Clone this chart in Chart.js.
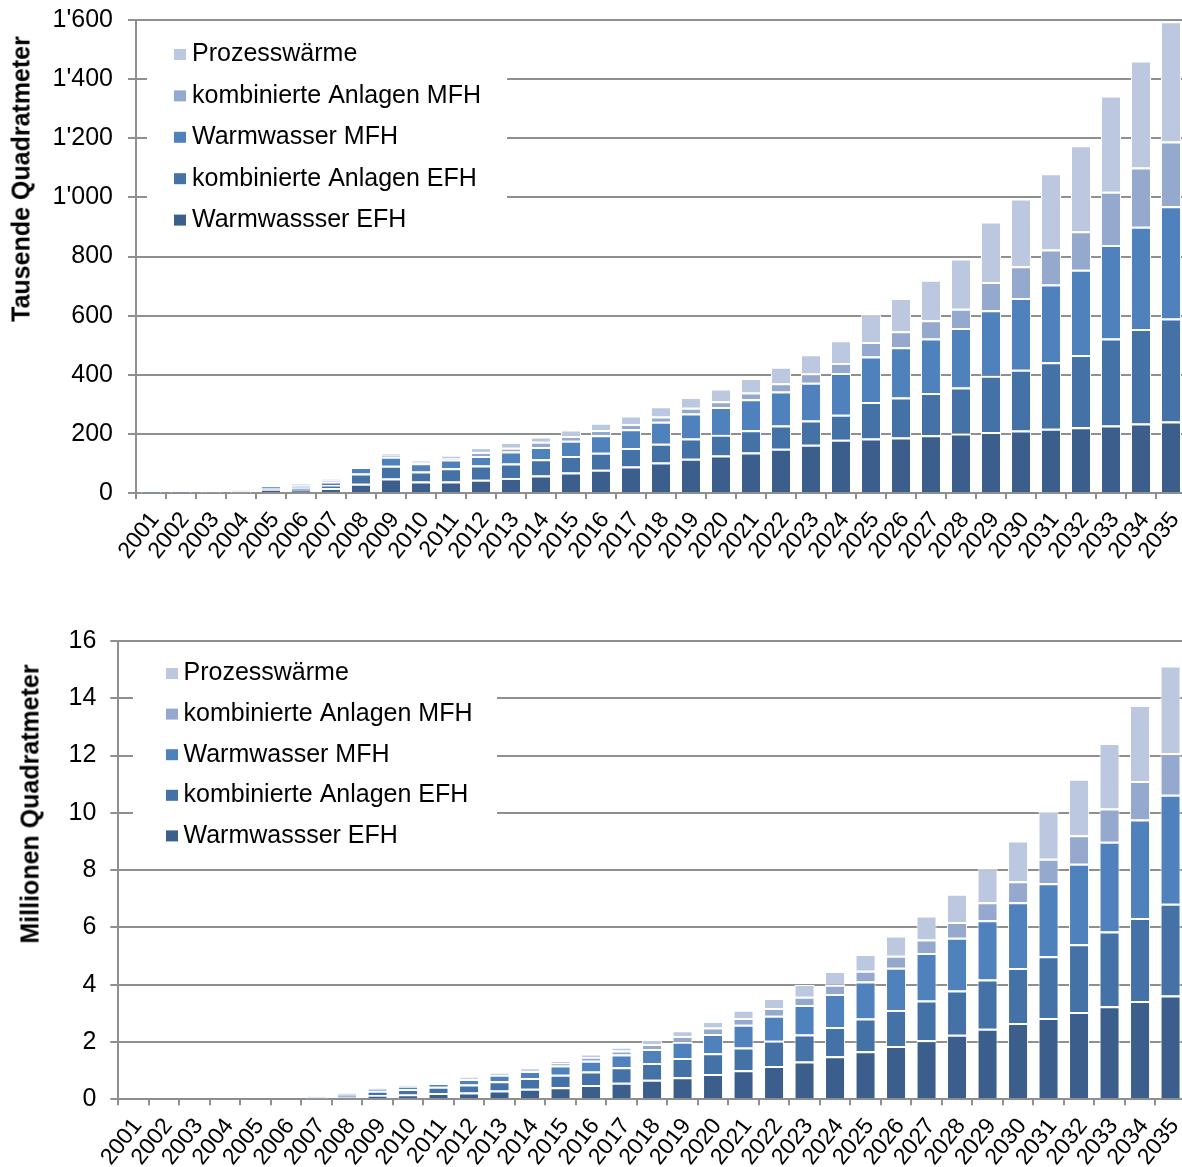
<!DOCTYPE html>
<html>
<head>
<meta charset="utf-8">
<script src="https://cdn.jsdelivr.net/npm/chart.js@4.4.1/dist/chart.umd.min.js"></script>
<style>
  html, body { margin: 0; padding: 0; background: #fff; overflow: hidden; width: 1182px; height: 1167px; }
  #wrap { position: relative; width: 1182px; height: 1167px; overflow: hidden; }
  canvas { position: absolute; left: 0; }
  .ytitle {
    position: absolute;
    font: bold 25px "Liberation Sans", Arial, sans-serif;
    white-space: nowrap;
    line-height: 1;
    color: #000;
    transform: translate(-50%, -50%) rotate(-90deg);
  }
</style>
</head>
<body>
<div id="wrap">
  <canvas id="annual" width="1190" height="575" style="top:0"></canvas>
  <canvas id="stock" width="1190" height="567" style="top:600px"></canvas>
  <div class="ytitle" style="left:21px; top:179px">Tausende Quadratmeter</div>
  <div class="ytitle" style="left:30px; top:804px">Millionen Quadratmeter</div>
</div>
<script>
// Years on the category axis
const years = ['2001','2002','2003','2004','2005','2006','2007','2008','2009','2010',
               '2011','2012','2013','2014','2015','2016','2017','2018','2019','2020',
               '2021','2022','2023','2024','2025','2026','2027','2028','2029','2030',
               '2031','2032','2033','2034','2035'];

// Series, bottom of the stack first
const seriesNames = ['Warmwassser EFH', 'kombinierte Anlagen EFH', 'Warmwasser MFH',
                     'kombinierte Anlagen MFH', 'Prozesswärme'];

// Annually installed collector area, thousand m²
const annualWwEfh    = [2,2,2,2,12,8,17,31,49,39,39,45,51,59,69,79,90,103,116,127,137,150,163,180,184,188,195,201,206,211,217,222,228,235,242];
const annualKombEfh  = [2,2,1,1,5,7,10,35,43,34,45,48,49,55,56,57,62,64,68,70,75,78,82,85,124,135,143,156,191,206,225,245,295,320,348];
const annualWwMfh    = [1,1,1,1,5,6,11,22,31,28,29,32,40,42,52,59,64,74,85,94,105,115,128,141,154,170,185,201,221,243,263,288,316,346,380];
const annualKombMfh  = [0,0,0,2,0,4,4,0,6,3,4,14,13,17,16,18,17,18,19,19,23,28,31,34,49,54,61,65,96,107,119,130,180,200,219];
const annualProzess  = [0,0,0,3,0,7,6,0,6,5,9,13,16,15,18,21,26,31,33,40,46,53,62,73,90,109,134,167,201,226,254,288,322,359,403];

// Installed collector area in operation, million m²
const stockWwEfh     = [0,0,0,0,0,0,0.02,0.07,0.15,0.17,0.22,0.24,0.31,0.37,0.42,0.50,0.58,0.68,0.77,0.88,1.01,1.16,1.32,1.50,1.68,1.86,2.06,2.25,2.46,2.66,2.84,3.05,3.25,3.43,3.62];
const stockKombEfh   = [0,0,0,0,0,0,0.02,0.05,0.15,0.19,0.22,0.28,0.32,0.37,0.44,0.47,0.54,0.59,0.67,0.73,0.80,0.88,0.94,1.02,1.14,1.26,1.39,1.55,1.72,1.92,2.15,2.36,2.61,2.90,3.21];
const stockWwMfh     = [0,0,0,0,0,0,0.02,0.04,0.06,0.09,0.12,0.19,0.23,0.25,0.32,0.38,0.44,0.49,0.57,0.67,0.79,0.88,1.03,1.16,1.29,1.47,1.66,1.84,2.07,2.30,2.55,2.81,3.13,3.44,3.80];
const stockKombMfh   = [0,0,0,0,0,0,0.01,0.04,0.01,0.02,0.01,0.03,0.04,0.03,0.09,0.13,0.14,0.17,0.20,0.23,0.24,0.27,0.29,0.32,0.38,0.42,0.47,0.55,0.63,0.73,0.86,1.00,1.16,1.34,1.45];
const stockProzess   = [0,0,0,0,0,0,0.03,0.04,0.01,0.02,0.01,0.03,0.03,0.05,0.07,0.08,0.10,0.14,0.17,0.19,0.25,0.31,0.41,0.44,0.55,0.67,0.80,0.95,1.15,1.39,1.64,1.94,2.25,2.62,3.03];

// Value-axis ticks
const annualTicks = [0, 200, 400, 600, 800, 1000, 1200, 1400, 1600];
const stockTicks  = [0, 2, 4, 6, 8, 10, 12, 14, 16];

const seriesColors = ['#3B5E8C', '#4572A6', '#4F81BD', '#95A9CF', '#BCC7E0'];
const GRID = '#8f8f8f';
const FONT = "'Liberation Sans', Arial, sans-serif";

// Swiss thousands separator: 1600 -> 1'600
const swiss = v => String(v).replace(/\B(?=(\d{3})+(?!\d))/g, "'");

// Legend drawn on a white panel inside the plot area, topmost series first
const insetLegend = {
  id: 'insetLegend',
  beforeDatasetsDraw(chart, args, o) {
    const ctx = chart.ctx;
    const a = chart.chartArea;
    ctx.save();
    ctx.fillStyle = '#fff';
    ctx.fillRect(a.left + o.panelX, a.top + o.panelY, o.panelW, o.panelH);
    ctx.font = `${o.fontSize}px ${FONT}`;
    ctx.textBaseline = 'middle';
    ctx.textAlign = 'left';
    const items = chart.data.datasets.slice().reverse();
    items.forEach((d, i) => {
      const y = a.top + o.firstRow + i * o.rowGap;
      ctx.fillStyle = d.backgroundColor;
      ctx.fillRect(a.left + o.markerX, y - 5.5, 12, 11);
      ctx.fillStyle = '#000';
      ctx.fillText(d.label, a.left + o.textX, y);
    });
    ctx.restore();
  }
};

function stackedChart(id, series, ticks, g) {
  const last = series.length - 1;
  const datasets = series.map((vals, i) => ({
    label: seriesNames[i],
    data: vals,
    backgroundColor: seriesColors[i],
    borderColor: '#ffffff',
    // white separator above each segment (thinner on the top segment), thin white sides
    borderWidth: { top: i === last ? 1 : 2, right: 1, bottom: 0, left: 1 },
    borderSkipped: false,
    barPercentage: g.barPct,
    categoryPercentage: 1
  }));
  return new Chart(document.getElementById(id), {
    type: 'bar',
    data: { labels: years, datasets },
    plugins: [insetLegend],
    options: {
      responsive: false,
      animation: false,
      devicePixelRatio: 1,
      layout: { padding: g.padding },
      plugins: {
        legend: { display: false },
        tooltip: { enabled: false },
        insetLegend: g.legend
      },
      scales: {
        x: {
          stacked: true,
          grid: { display: true, drawOnChartArea: false, drawTicks: true, tickLength: 6,
                  color: GRID, lineWidth: 2, offset: true },
          border: { display: true, color: GRID, width: 2 },
          ticks: { autoSkip: false, minRotation: 52, maxRotation: 52,
                   padding: 8, labelOffset: 4, color: '#000',
                   font: { family: FONT, size: 23 } },
          afterFit: s => { s.height = g.xHeight; s.paddingLeft = 0; s.paddingRight = 0; }
        },
        y: {
          stacked: true,
          min: ticks[0],
          max: ticks[ticks.length - 1],
          afterBuildTicks: s => { s.ticks = ticks.map(v => ({ value: v })); },
          ticks: { padding: g.yPad, color: '#000', font: { family: FONT, size: 25 },
                   callback: v => swiss(v) },
          grid: { color: GRID, lineWidth: 2, tickLength: 8, drawTicks: true },
          border: { display: true, color: GRID, width: 2 },
          afterFit: s => { s.width = g.yWidth; s.paddingTop = 0; s.paddingBottom = 0; }
        }
      }
    }
  });
}

stackedChart('annual',
  [annualWwEfh, annualKombEfh, annualWwMfh, annualKombMfh, annualProzess],
  annualTicks,
  {
    padding: { top: 20, right: 4, bottom: 0, left: 0 },
    yWidth: 136, xHeight: 82, yPad: 15, barPct: 0.667,
    legend: { panelX: 11, panelY: 5, panelW: 360, panelH: 215,
              firstRow: 34.5, rowGap: 41.4, markerX: 38, textX: 56, fontSize: 25 }
  });

stackedChart('stock',
  [stockWwEfh, stockKombEfh, stockWwMfh, stockKombMfh, stockProzess],
  stockTicks,
  {
    padding: { top: 41, right: 4.2, bottom: 0, left: 0 },
    yWidth: 118.3, xHeight: 67.7, yPad: 14, barPct: 0.656,
    legend: { panelX: 14.7, panelY: 4, panelW: 364, panelH: 215,
              firstRow: 32.5, rowGap: 40.6, markerX: 47.7, textX: 65.2, fontSize: 25 }
  });
</script>
</body>
</html>
